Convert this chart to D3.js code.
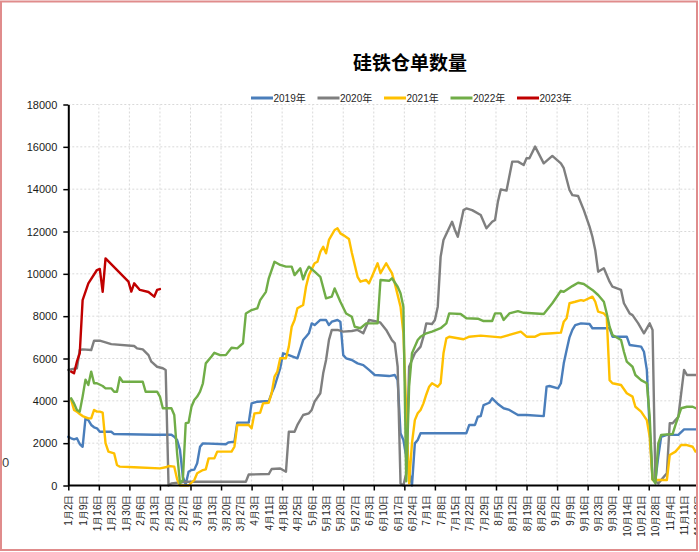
<!DOCTYPE html>
<html>
<head>
<meta charset="utf-8">
<script src="https://cdn.jsdelivr.net/npm/d3@7/dist/d3.min.js"></script>
<style>
  body { margin: 0; background: #fff; }
  svg { display: block; font-family: "Liberation Sans", "Noto Sans CJK SC", sans-serif; }
</style>
</head>
<body>
<svg id="chart" width="699" height="552"></svg>
<script>
// x labels: one every 5 trading days
const dateLabels = ["1月2日", "1月9日", "1月16日", "1月23日", "1月30日", "2月6日", "2月13日", "2月20日",
    "2月27日", "3月6日", "3月13日", "3月20日", "3月27日", "4月3日", "4月11日", "4月18日", "4月25日",
    "5月6日", "5月13日", "5月20日", "5月27日", "6月3日", "6月10日", "6月17日", "6月24日", "7月1日",
    "7月8日", "7月15日", "7月22日", "7月29日", "8月5日", "8月12日", "8月19日", "8月26日", "9月2日",
    "9月9日", "9月16日", "9月23日", "9月30日", "10月14日", "10月21日", "10月28日", "11月4日",
    "11月11日", "11月18日"];
const yTicks = [0, 2000, 4000, 6000, 8000, 10000, 12000, 14000, 16000, 18000];
const seriesNames = ["2019年", "2020年", "2021年", "2022年", "2023年"];

// [trading day index, 仓单数量]
const s2019 = [[0,2300],[1,2230],[2,2180],[3,2230],[4,1960],[5,1830],[6,3170],[7,3090],[8,2860],[9,2750],
    [10,2700],[11,2540],[15,2540],[16,2430],[30,2400],[36,2400],[37,2300],[38,2150],[39,1680],[40,400],
    [41,50],[42,650],[43,730],[44,750],[45,1050],[46,1830],[47,1990],[55,1950],[56,2040],[58,2070],
    [59,2970],[63,2970],[64,3880],[66,3960],[70,3990],[71,4360],[72,4670],[74,5540],[75,6245],[77,6160],
    [80,6010],[82,6870],[83,7030],[84,7190],[85,7660],[86,7580],[88,7820],[90,7820],[91,7580],[92,7740],
    [94,7820],[95,7740],[96,6160],[97,6010],[99,5930],[101,5770],[103,5690],[105,5460],[107,5220],
    [112,5170],[114,5220],[115,4980],[116,2470],[117,2150],[118,1360],[120,0],[121,1990],[122,2150],
    [123,2470],[139,2470],[140,2860],[142,2860],[143,3250],[144,3280],[145,3800],[147,3910],[148,4120],
    [150,3850],[152,3650],[154,3570],[157,3330],[160,3330],[166,3280],[167,4670],[168,4700],[171,4590],
    [172,4830],[173,5770],[174,6400],[175,7000],[176,7350],[177,7580],[179,7660],[182,7630],[183,7430],
    [189,7430],[190,7030],[195,7030],[196,6640],[200,6560],[201,6320],[202,5460],[203,2620],[204,300],
    [205,260],[206,1360],[207,2300],[209,2390],[213,2390],[215,2650],[222,2650]];
const s2020 = [[0,5460],[3,5540],[4,6400],[5,6430],[8,6400],[9,6840],[11,6840],[13,6760],[15,6680],
    [23,6590],[24,6480],[26,6430],[28,6160],[29,5850],[31,5610],[33,5540],[34,5460],[35,0],[36,100],
    [41,180],[62,180],[63,520],[70,540],[71,780],[74,800],[76,650],[77,2540],[79,2540],[80,2860],
    [82,3330],[84,3410],[85,3570],[86,3960],[88,4360],[89,5300],[90,5930],[91,6870],[92,7350],[94,7350],
    [96,7270],[99,7300],[101,7350],[103,7190],[105,7820],[108,7740],[109,7690],[111,7350],[113,6870],
    [114,6720],[115,5610],[116,100],[117,0],[118,580],[119,5610],[121,6245],[123,6560],[124,7030],
    [125,7660],[127,7630],[128,7820],[129,8450],[130,10800],[131,11600],[134,12460],[135,12070],
    [136,11750],[138,13010],[139,13090],[141,13010],[144,12780],[146,12150],[148,12460],[149,12540],
    [150,13410],[151,13990],[153,13930],[155,15300],[157,15300],[159,15140],[160,15460],[161,15460],
    [163,16010],[166,15220],[169,15570],[172,15220],[173,14990],[175,13960],[176,13720],[178,13680],
    [180,13010],[182,12230],[183,11750],[184,11120],[185,10100],[187,10260],[189,9630],[190,9390],
    [193,9240],[194,8610],[196,8130],[197,8050],[199,7660],[201,7190],[203,7660],[204,7350],[205,200],
    [206,100],[209,580],[210,2940],[211,2940],[213,3250],[215,5460],[216,5220],[222,5220]];
const s2021 = [[1,4040],[2,3570],[3,3490],[4,3380],[5,3280],[7,3170],[8,3170],[9,3570],[10,3490],
    [11,3490],[12,3440],[13,2000],[14,1600],[16,1520],[17,970],[18,890],[23,860],[32,810],[34,860],
    [35,920],[37,890],[38,300],[39,0],[42,0],[44,260],[45,580],[47,730],[48,760],[49,1280],[51,1280],
    [52,1600],[57,1600],[58,1830],[59,2860],[63,2860],[64,2700],[65,3410],[67,3440],[68,3880],[70,3910],
    [71,4360],[72,5140],[73,5380],[74,6010],[76,6010],[77,6560],[78,7500],[79,7820],[80,8370],[82,8530],
    [83,9390],[84,9940],[86,10500],[87,10570],[88,11040],[89,11280],[90,10970],[91,11600],[93,12070],
    [94,12150],[95,11910],[96,11830],[98,11650],[99,11000],[101,9860],[102,9630],[104,9710],[105,9550],
    [106,9860],[108,10500],[109,10030],[111,10500],[112,10260],[113,10030],[114,9550],[116,8450],
    [117,7200],[118,3500],[119,100],[120,2000],[121,3090],[122,3410],[123,3570],[124,3880],[125,4300],
    [126,4670],[127,4830],[128,4750],[129,4670],[130,4830],[131,6245],[132,6950],[133,7030],[138,6910],
    [140,7030],[144,7080],[151,7000],[158,7270],[160,7030],[163,7030],[165,7160],[169,7190],[172,7220],
    [173,7740],[174,7900],[175,8610],[177,8680],[179,8760],[180,8730],[183,8920],[184,8680],[185,8210],
    [187,8130],[188,7970],[189,4980],[190,4830],[193,4750],[195,4360],[197,4200],[198,3720],[200,3490],
    [202,3090],[203,2300],[204,260],[209,260],[210,1440],[212,1600],[214,1910],[216,1910],[218,1830],
    [219,1600],[222,1600]];
const s2022 = [[1,4120],[2,3880],[3,3570],[4,3490],[5,4200],[6,5000],[7,4750],[8,5380],[9,4830],
    [10,4830],[12,4700],[13,4590],[15,4590],[16,4430],[17,4430],[18,5110],[19,4900],[26,4900],[27,4430],
    [31,4430],[32,4200],[33,3650],[36,3650],[37,3330],[38,1500],[39,100],[40,260],[41,2940],[42,2970],
    [43,3720],[44,4040],[45,4200],[46,4430],[47,4830],[48,5770],[50,6090],[51,6270],[53,6160],[55,6160],
    [57,6510],[59,6480],[61,6720],[62,8130],[64,8290],[66,8370],[67,8760],[69,9150],[70,9790],[72,10570],
    [74,10420],[76,10340],[78,10340],[79,9940],[81,10260],[82,9740],[83,10100],[84,10340],[86,10100],
    [88,9860],[90,8840],[92,8920],[93,9310],[95,8680],[97,8130],[99,7970],[100,7500],[102,7430],
    [104,7660],[108,7660],[109,9710],[112,9670],[113,9790],[115,9390],[116,9080],[117,8450],[118,200],
    [119,4670],[120,6245],[122,6870],[123,7030],[125,7190],[127,7270],[130,7430],[132,7660],[133,8130],
    [137,8100],[139,7900],[143,7880],[145,7770],[148,7770],[149,8130],[151,8130],[152,7820],[154,8130],
    [157,8240],[159,8160],[166,8100],[169,8610],[172,9200],[173,9150],[176,9420],[178,9580],[180,9520],
    [183,9240],[185,9000],[187,8680],[188,8130],[189,7500],[190,7110],[193,6870],[194,6320],[195,5850],
    [197,5610],[198,5220],[200,4980],[202,4830],[203,3250],[204,300],[205,100],[206,1990],[207,2390],
    [211,2430],[212,2860],[214,3650],[216,3720],[218,3720],[220,3600]];
const s2023 = [[1,5380],[2,5300],[3,5850],[4,6250],[5,8760],[7,9550],[10,10180],[11,10230],[12,9150],
    [13,10730],[21,9630],[22,9160],[23,9550],[25,9240],[28,9140],[30,8920],[31,9240],[32,9280]];

const allSeries = [s2019, s2020, s2021, s2022, s2023];
const colors = ["#4a7ebb", "#7f7f7f", "#ffc000", "#70ad47", "#c00000"];

const svg = d3.select("#chart");
const margin = {top: 104.5, left: 68.3, bottom: 66.5};
const dayWidth = 2.864;
const gridEvery = 32 / 3;   // tick marks / vertical grid spacing, in days

const x = d3.scaleLinear()
    .domain([0, 220])
    .range([margin.left, margin.left + 220 * dayWidth]);
const y = d3.scaleLinear()
    .domain([0, 18000])
    .range([552 - margin.bottom, margin.top]);

svg.append("defs").append("clipPath").attr("id", "clip")
    .append("rect").attr("x", 0).attr("y", 0).attr("width", 697).attr("height", 552);

const g = svg.append("g").attr("clip-path", "url(#clip)");

// grid
const gridX = d3.range(1, 21).map(function (k) { return k * gridEvery; });
g.append("g").selectAll("line").data(gridX).enter().append("line")
    .attr("x1", d => x(d)).attr("x2", d => x(d))
    .attr("y1", y(0)).attr("y2", y(18000))
    .attr("stroke", "#d9d9d9").attr("stroke-dasharray", "2,2");
g.append("g").selectAll("line").data(yTicks.slice(1)).enter().append("line")
    .attr("x1", x(0)).attr("x2", 697)
    .attr("y1", d => y(d)).attr("y2", d => y(d))
    .attr("stroke", "#d9d9d9").attr("stroke-dasharray", "2,2");

// lines
const line = d3.line()
    .x(function (d) { return x(d[0]); })
    .y(function (d) { return y(d[1]); });

allSeries.forEach(function (s, i) {
    g.append("path")
        .attr("d", line(s))
        .attr("fill", "none")
        .attr("stroke", colors[i])
        .attr("stroke-width", 2.4)
        .attr("stroke-linejoin", "round")
        .attr("stroke-linecap", "round");
});

// y axis
const yAxis = g.append("g")
    .attr("transform", "translate(" + x(0) + ",0)")
    .call(d3.axisLeft(y).tickValues(yTicks).tickFormat(d3.format("d"))
        .tickSize(5).tickSizeOuter(0).tickPadding(6));
yAxis.select(".domain").attr("stroke", "#000").attr("stroke-width", 2);
yAxis.selectAll(".tick line").attr("stroke", "#000").attr("stroke-width", 1.5);
yAxis.selectAll("text").attr("fill", "#1a1a1a").style("font-size", "11px");

// x axis: tick marks
const xTicks = g.append("g")
    .attr("transform", "translate(0," + y(0) + ")")
    .call(d3.axisBottom(x).tickValues(d3.range(0, 21).map(k => k * gridEvery)).tickSize(5).tickFormat(""));
xTicks.select(".domain").remove();
xTicks.selectAll(".tick line").attr("stroke", "#000").attr("stroke-width", 1.5);

// x axis: labels
const xAxis = g.append("g")
    .attr("transform", "translate(0," + y(0) + ")")
    .call(d3.axisBottom(x)
        .tickValues(dateLabels.map((d, i) => i * 5))
        .tickFormat((d, i) => dateLabels[i])
        .tickSize(0));
xAxis.select(".domain").attr("stroke", "#000").attr("stroke-width", 2)
    .attr("d", "M" + x(0) + ",0H697");
xAxis.selectAll("text")
    .attr("fill", "#262626")
    .style("font-size", "10px")
    .attr("transform", "rotate(-90)")
    .attr("x", -9)
    .attr("y", 0)
    .attr("dy", "0.35em")
    .style("text-anchor", "end");

// title
svg.append("text")
    .attr("x", 410).attr("y", 70)
    .attr("text-anchor", "middle")
    .style("font-family", "'Noto Sans CJK SC', sans-serif")
    .style("font-size", "19px")
    .style("font-weight", "bold")
    .text("硅铁仓单数量");

// legend
const legend = svg.append("g").attr("transform", "translate(251,98)");
seriesNames.forEach(function (name, i) {
    const item = legend.append("g").attr("transform", "translate(" + (i * 66.5) + ",0)");
    item.append("line")
        .attr("x1", 0).attr("x2", 22)
        .attr("stroke", colors[i]).attr("stroke-width", 3);
    item.append("text")
        .attr("x", 22.5).attr("y", 4)
        .attr("fill", "#262626")
        .style("font-size", "10px")
        .text(name);
});

// stray label at left edge
svg.append("text")
    .attr("x", 2).attr("y", 467)
    .attr("fill", "#404040")
    .style("font-size", "13px")
    .text("0");

// outer border
svg.append("rect")
    .attr("x", 1).attr("y", 1.5)
    .attr("width", 696).attr("height", 548.5)
    .attr("fill", "none")
    .attr("stroke", "#e08c8c")
    .attr("stroke-width", 2);
</script>
</body>
</html>
